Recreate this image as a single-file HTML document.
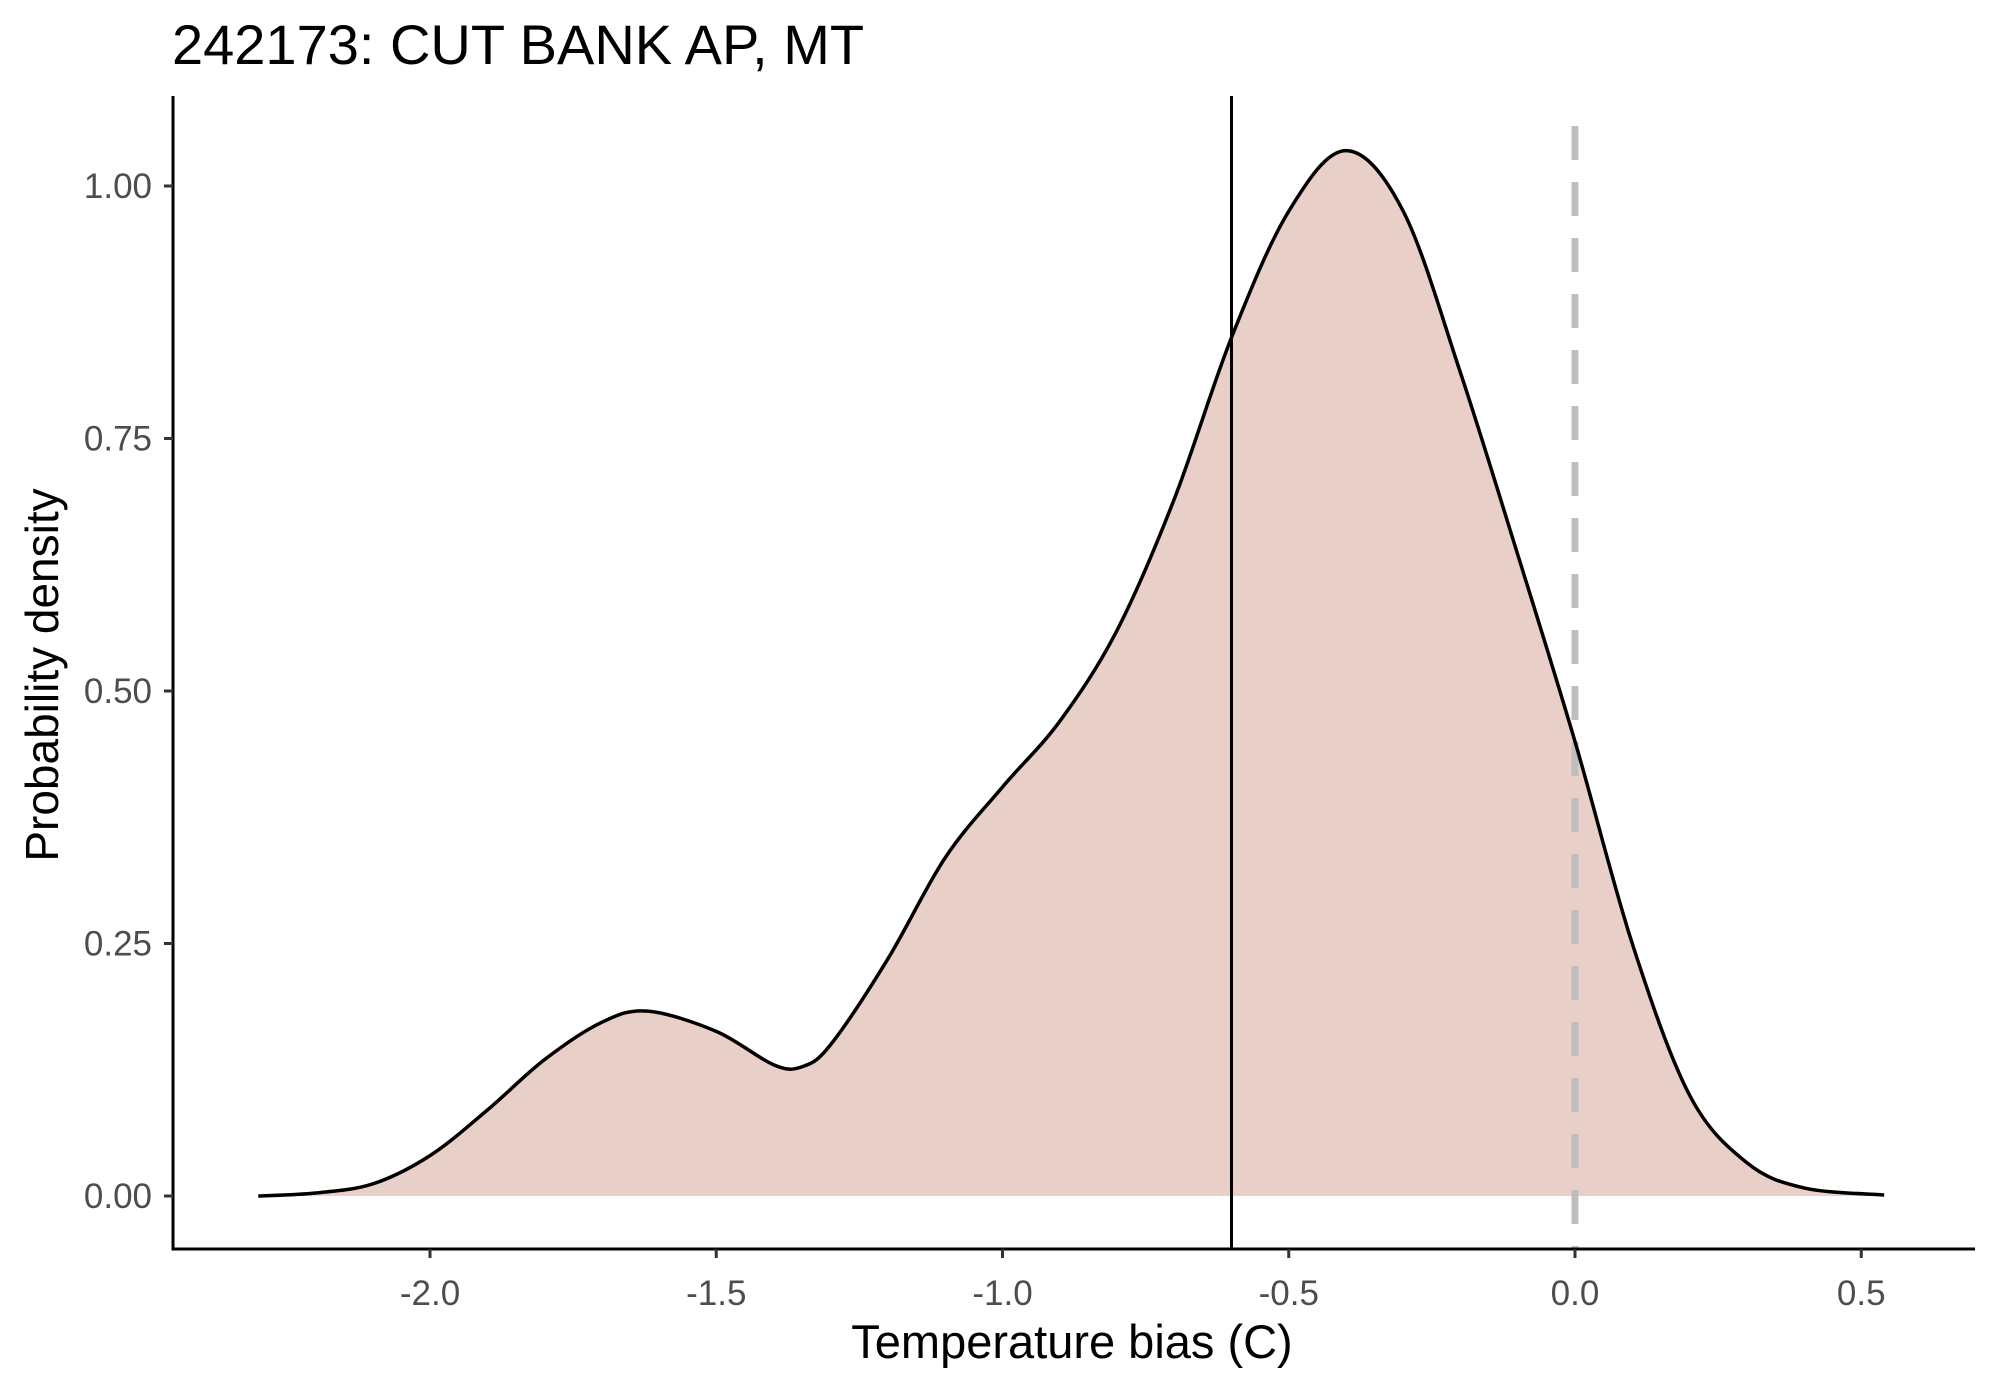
<!DOCTYPE html>
<html><head><meta charset="utf-8"><style>
body{margin:0;background:#fff}
svg text{font-family:"Liberation Sans",Arial,sans-serif}
</style></head><body>
<svg id="chart" width="1990" height="1384" viewBox="0 0 1990 1384">
<text x="172" y="64" font-size="56" fill="#000">242173: CUT BANK AP, MT</text>
<g id="plot"></g>
<text x="1072" y="1358" font-size="47" text-anchor="middle" fill="#000">Temperature bias (C)</text>
<text transform="translate(58,675) rotate(-90)" font-size="46" text-anchor="middle" fill="#000">Probability density</text>
</svg>
<script>
const xs=[-2.3,-2.2,-2.1,-2.0,-1.9,-1.8,-1.7,-1.62,-1.5,-1.4,-1.35,-1.3,-1.2,-1.1,-1.0,-0.9,-0.8,-0.7,-0.6,-0.5,-0.4,-0.3,-0.2,-0.1,0.0,0.1,0.2,0.3,0.4,0.54];
const dens=[0,0.003,0.012,0.04,0.085,0.135,0.172,0.183,0.163,0.13,0.128,0.15,0.235,0.335,0.405,0.47,0.56,0.69,0.85,0.975,1.035,0.975,0.815,0.635,0.45,0.25,0.1,0.033,0.008,0.001];
const xTicks=[-2.0,-1.5,-1.0,-0.5,0.0,0.5];
const xTickLabels=["-2.0","-1.5","-1.0","-0.5","0.0","0.5"];
const yTicks=[0,0.25,0.5,0.75,1.0];
const yTickLabels=["0.00","0.25","0.50","0.75","1.00"];
const meanBias=[-0.6];
const refLine=[0.0];
const NS="http://www.w3.org/2000/svg";
const X=v=>1575+572.5*v, Y=v=>1196-1010*v;
const g=document.getElementById('plot');
function mk(t,a){const e=document.createElementNS(NS,t);for(const k in a)e.setAttribute(k,a[k]);g.appendChild(e);return e;}
const pts=xs.map((x,i)=>[X(x),Y(dens[i])]);
let d=`M${pts[0][0]},${pts[0][1]}`;
for(let i=0;i<pts.length-1;i++){const p0=pts[Math.max(0,i-1)],p1=pts[i],p2=pts[i+1],p3=pts[Math.min(pts.length-1,i+2)];
d+=` C${p1[0]+(p2[0]-p0[0])/6},${p1[1]+(p2[1]-p0[1])/6} ${p2[0]-(p3[0]-p1[0])/6},${p2[1]-(p3[1]-p1[1])/6} ${p2[0]},${p2[1]}`;}
const area=mk('path',{d:d+` L${pts[pts.length-1][0]},${Y(0)} L${pts[0][0]},${Y(0)} Z`,fill:'#e8cfc8'});


const dl=mk('line',{x1:X(refLine[0]),x2:X(refLine[0]),y1:126,y2:1249,stroke:'#bebebe','stroke-width':7,'stroke-dasharray':'34 22'});


const line=mk('path',{d:d,fill:'none',stroke:'#000','stroke-width':3.5});


const ml=mk('line',{x1:X(meanBias[0]),x2:X(meanBias[0]),y1:96,y2:1249,stroke:'#000','stroke-width':3});


const ax=mk('path',{d:'M173,96 L173,1249 L1975,1249',fill:'none',stroke:'#000','stroke-width':3});


xTicks.forEach((v,i)=>{const t=mk('line',{x1:X(v),x2:X(v),y1:1249,y2:1258,stroke:'#333','stroke-width':3});


const l=mk('text',{x:X(v),y:1305,'font-size':35,'text-anchor':'middle',fill:'#4d4d4d'});l.textContent=xTickLabels[i];

});
yTicks.forEach((v,i)=>{const t=mk('line',{x1:164,x2:173,y1:Y(v),y2:Y(v),stroke:'#333','stroke-width':3});


const l=mk('text',{x:152,y:Y(v)+12,'font-size':35,'text-anchor':'end',fill:'#4d4d4d'});l.textContent=yTickLabels[i];

});
</script>
</body></html>
